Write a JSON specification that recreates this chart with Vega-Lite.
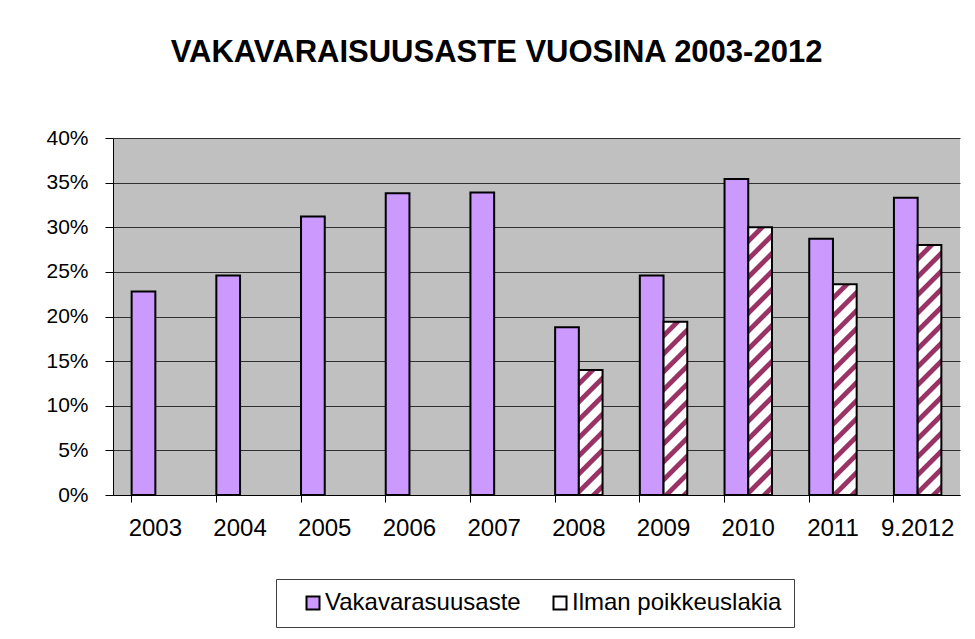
{
  "$schema": "https://vega.github.io/schema/vega-lite/v6.json",
  "autosize": {"type": "none"},
  "width": 847,
  "height": 357,
  "padding": {"left": 113, "top": 138, "right": 15, "bottom": 144},
  "background": "white",
  "title": {
    "text": "VAKAVARAISUUSASTE VUOSINA 2003-2012",
    "font": "Liberation Sans",
    "fontSize": 31,
    "fontWeight": "bold",
    "color": "black",
    "anchor": "middle",
    "frame": "group",
    "baseline": "alphabetic",
    "dx": -40,
    "offset": 34
  },
  "data": {
    "values": [
      {"year": "2003", "series": "Vakavarasuusaste", "value": 0.228},
      {"year": "2004", "series": "Vakavarasuusaste", "value": 0.246},
      {"year": "2005", "series": "Vakavarasuusaste", "value": 0.312},
      {"year": "2006", "series": "Vakavarasuusaste", "value": 0.338},
      {"year": "2007", "series": "Vakavarasuusaste", "value": 0.339},
      {"year": "2008", "series": "Vakavarasuusaste", "value": 0.188},
      {"year": "2008", "series": "Ilman poikkeuslakia", "value": 0.140},
      {"year": "2009", "series": "Vakavarasuusaste", "value": 0.246},
      {"year": "2009", "series": "Ilman poikkeuslakia", "value": 0.194},
      {"year": "2010", "series": "Vakavarasuusaste", "value": 0.354},
      {"year": "2010", "series": "Ilman poikkeuslakia", "value": 0.300},
      {"year": "2011", "series": "Vakavarasuusaste", "value": 0.287},
      {"year": "2011", "series": "Ilman poikkeuslakia", "value": 0.236},
      {"year": "9.2012", "series": "Vakavarasuusaste", "value": 0.333},
      {"year": "9.2012", "series": "Ilman poikkeuslakia", "value": 0.280}
    ]
  },
  "mark": {"type": "bar", "stroke": "black", "strokeWidth": 2},
  "encoding": {
    "x": {
      "field": "year",
      "type": "nominal",
      "sort": null,
      "scale": {"paddingInner": 0.44, "paddingOuter": 0.22},
      "axis": {
        "title": null,
        "labelAngle": 0,
        "bandPosition": 0,
        "labelFont": "Liberation Sans",
        "labelFontSize": 24,
        "labelColor": "black",
        "labelPadding": 14,
        "tickSize": 7,
        "tickColor": "black",
        "domainColor": "black",
        "grid": false
      }
    },
    "xOffset": {
      "field": "series",
      "type": "nominal",
      "scale": {"domain": ["Vakavarasuusaste", "Ilman poikkeuslakia"]}
    },
    "y": {
      "field": "value",
      "type": "quantitative",
      "scale": {"domain": [0, 0.4], "nice": false},
      "axis": {
        "title": null,
        "values": [0, 0.05, 0.1, 0.15, 0.2, 0.25, 0.3, 0.35, 0.4],
        "format": ".0%",
        "labelFont": "Liberation Sans",
        "labelFontSize": 21,
        "labelColor": "black",
        "labelPadding": 17,
        "tickSize": 8,
        "tickColor": "black",
        "domainColor": "black",
        "grid": true,
        "gridColor": "#303030",
        "gridWidth": 1
      }
    },
    "fill": {
      "condition": [
        {"test": "datum.series === 'Ilman poikkeuslakia' && datum.year === '2008'", "value": {"gradient": "linear", "x1": 0, "y1": 0, "x2": 0.5275, "y2": 2.7811, "stops": [{"offset":0,"color":"#fff"},{"offset":0.027,"color":"#fff"},{"offset":0.031,"color":"#936"},{"offset":0.046,"color":"#936"},{"offset":0.05,"color":"#fff"},{"offset":0.077,"color":"#fff"},{"offset":0.081,"color":"#936"},{"offset":0.096,"color":"#936"},{"offset":0.1,"color":"#fff"},{"offset":0.127,"color":"#fff"},{"offset":0.131,"color":"#936"},{"offset":0.146,"color":"#936"},{"offset":0.15,"color":"#fff"},{"offset":0.177,"color":"#fff"},{"offset":0.181,"color":"#936"},{"offset":0.196,"color":"#936"},{"offset":0.2,"color":"#fff"},{"offset":0.227,"color":"#fff"},{"offset":0.231,"color":"#936"},{"offset":0.246,"color":"#936"},{"offset":0.25,"color":"#fff"},{"offset":0.277,"color":"#fff"},{"offset":0.281,"color":"#936"},{"offset":0.296,"color":"#936"},{"offset":0.3,"color":"#fff"},{"offset":0.327,"color":"#fff"},{"offset":0.331,"color":"#936"},{"offset":0.346,"color":"#936"},{"offset":0.35,"color":"#fff"},{"offset":0.377,"color":"#fff"},{"offset":0.381,"color":"#936"},{"offset":0.396,"color":"#936"},{"offset":0.4,"color":"#fff"},{"offset":0.427,"color":"#fff"},{"offset":0.431,"color":"#936"},{"offset":0.446,"color":"#936"},{"offset":0.45,"color":"#fff"}]}},
        {"test": "datum.series === 'Ilman poikkeuslakia' && datum.year === '2009'", "value": {"gradient": "linear", "x1": 0, "y1": 0, "x2": 0.2795, "y2": 2.0414, "stops": [{"offset":0,"color":"#fff"},{"offset":0.027,"color":"#fff"},{"offset":0.031,"color":"#936"},{"offset":0.046,"color":"#936"},{"offset":0.05,"color":"#fff"},{"offset":0.077,"color":"#fff"},{"offset":0.081,"color":"#936"},{"offset":0.096,"color":"#936"},{"offset":0.1,"color":"#fff"},{"offset":0.127,"color":"#fff"},{"offset":0.131,"color":"#936"},{"offset":0.146,"color":"#936"},{"offset":0.15,"color":"#fff"},{"offset":0.177,"color":"#fff"},{"offset":0.181,"color":"#936"},{"offset":0.196,"color":"#936"},{"offset":0.2,"color":"#fff"},{"offset":0.227,"color":"#fff"},{"offset":0.231,"color":"#936"},{"offset":0.246,"color":"#936"},{"offset":0.25,"color":"#fff"},{"offset":0.277,"color":"#fff"},{"offset":0.281,"color":"#936"},{"offset":0.296,"color":"#936"},{"offset":0.3,"color":"#fff"},{"offset":0.327,"color":"#fff"},{"offset":0.331,"color":"#936"},{"offset":0.346,"color":"#936"},{"offset":0.35,"color":"#fff"},{"offset":0.377,"color":"#fff"},{"offset":0.381,"color":"#936"},{"offset":0.396,"color":"#936"},{"offset":0.4,"color":"#fff"},{"offset":0.427,"color":"#fff"},{"offset":0.431,"color":"#936"},{"offset":0.446,"color":"#936"},{"offset":0.45,"color":"#fff"},{"offset":0.477,"color":"#fff"},{"offset":0.481,"color":"#936"},{"offset":0.496,"color":"#936"},{"offset":0.5,"color":"#fff"},{"offset":0.527,"color":"#fff"},{"offset":0.531,"color":"#936"},{"offset":0.546,"color":"#936"},{"offset":0.55,"color":"#fff"}]}},
        {"test": "datum.series === 'Ilman poikkeuslakia' && datum.year === '2010'", "value": {"gradient": "linear", "x1": 0, "y1": 0, "x2": 0.1181, "y2": 1.3340, "stops": [{"offset":0,"color":"#fff"},{"offset":0.027,"color":"#fff"},{"offset":0.031,"color":"#936"},{"offset":0.046,"color":"#936"},{"offset":0.05,"color":"#fff"},{"offset":0.077,"color":"#fff"},{"offset":0.081,"color":"#936"},{"offset":0.096,"color":"#936"},{"offset":0.1,"color":"#fff"},{"offset":0.127,"color":"#fff"},{"offset":0.131,"color":"#936"},{"offset":0.146,"color":"#936"},{"offset":0.15,"color":"#fff"},{"offset":0.177,"color":"#fff"},{"offset":0.181,"color":"#936"},{"offset":0.196,"color":"#936"},{"offset":0.2,"color":"#fff"},{"offset":0.227,"color":"#fff"},{"offset":0.231,"color":"#936"},{"offset":0.246,"color":"#936"},{"offset":0.25,"color":"#fff"},{"offset":0.277,"color":"#fff"},{"offset":0.281,"color":"#936"},{"offset":0.296,"color":"#936"},{"offset":0.3,"color":"#fff"},{"offset":0.327,"color":"#fff"},{"offset":0.331,"color":"#936"},{"offset":0.346,"color":"#936"},{"offset":0.35,"color":"#fff"},{"offset":0.377,"color":"#fff"},{"offset":0.381,"color":"#936"},{"offset":0.396,"color":"#936"},{"offset":0.4,"color":"#fff"},{"offset":0.427,"color":"#fff"},{"offset":0.431,"color":"#936"},{"offset":0.446,"color":"#936"},{"offset":0.45,"color":"#fff"},{"offset":0.477,"color":"#fff"},{"offset":0.481,"color":"#936"},{"offset":0.496,"color":"#936"},{"offset":0.5,"color":"#fff"},{"offset":0.527,"color":"#fff"},{"offset":0.531,"color":"#936"},{"offset":0.546,"color":"#936"},{"offset":0.55,"color":"#fff"},{"offset":0.577,"color":"#fff"},{"offset":0.581,"color":"#936"},{"offset":0.596,"color":"#936"},{"offset":0.6,"color":"#fff"},{"offset":0.627,"color":"#fff"},{"offset":0.631,"color":"#936"},{"offset":0.646,"color":"#936"},{"offset":0.65,"color":"#fff"},{"offset":0.677,"color":"#fff"},{"offset":0.681,"color":"#936"},{"offset":0.696,"color":"#936"},{"offset":0.7,"color":"#fff"},{"offset":0.727,"color":"#fff"},{"offset":0.731,"color":"#936"},{"offset":0.746,"color":"#936"},{"offset":0.75,"color":"#fff"},{"offset":0.777,"color":"#fff"},{"offset":0.781,"color":"#936"},{"offset":0.796,"color":"#936"},{"offset":0.8,"color":"#fff"},{"offset":0.827,"color":"#fff"},{"offset":0.831,"color":"#936"},{"offset":0.846,"color":"#936"},{"offset":0.85,"color":"#fff"}]}},
        {"test": "datum.series === 'Ilman poikkeuslakia' && datum.year === '2011'", "value": {"gradient": "linear", "x1": 0, "y1": 0, "x2": 0.1900, "y2": 1.6880, "stops": [{"offset":0,"color":"#fff"},{"offset":0.027,"color":"#fff"},{"offset":0.031,"color":"#936"},{"offset":0.046,"color":"#936"},{"offset":0.05,"color":"#fff"},{"offset":0.077,"color":"#fff"},{"offset":0.081,"color":"#936"},{"offset":0.096,"color":"#936"},{"offset":0.1,"color":"#fff"},{"offset":0.127,"color":"#fff"},{"offset":0.131,"color":"#936"},{"offset":0.146,"color":"#936"},{"offset":0.15,"color":"#fff"},{"offset":0.177,"color":"#fff"},{"offset":0.181,"color":"#936"},{"offset":0.196,"color":"#936"},{"offset":0.2,"color":"#fff"},{"offset":0.227,"color":"#fff"},{"offset":0.231,"color":"#936"},{"offset":0.246,"color":"#936"},{"offset":0.25,"color":"#fff"},{"offset":0.277,"color":"#fff"},{"offset":0.281,"color":"#936"},{"offset":0.296,"color":"#936"},{"offset":0.3,"color":"#fff"},{"offset":0.327,"color":"#fff"},{"offset":0.331,"color":"#936"},{"offset":0.346,"color":"#936"},{"offset":0.35,"color":"#fff"},{"offset":0.377,"color":"#fff"},{"offset":0.381,"color":"#936"},{"offset":0.396,"color":"#936"},{"offset":0.4,"color":"#fff"},{"offset":0.427,"color":"#fff"},{"offset":0.431,"color":"#936"},{"offset":0.446,"color":"#936"},{"offset":0.45,"color":"#fff"},{"offset":0.477,"color":"#fff"},{"offset":0.481,"color":"#936"},{"offset":0.496,"color":"#936"},{"offset":0.5,"color":"#fff"},{"offset":0.527,"color":"#fff"},{"offset":0.531,"color":"#936"},{"offset":0.546,"color":"#936"},{"offset":0.55,"color":"#fff"},{"offset":0.577,"color":"#fff"},{"offset":0.581,"color":"#936"},{"offset":0.596,"color":"#936"},{"offset":0.6,"color":"#fff"},{"offset":0.627,"color":"#fff"},{"offset":0.631,"color":"#936"},{"offset":0.646,"color":"#936"},{"offset":0.65,"color":"#fff"},{"offset":0.677,"color":"#fff"},{"offset":0.681,"color":"#936"},{"offset":0.696,"color":"#936"},{"offset":0.7,"color":"#fff"}]}},
        {"test": "datum.series === 'Ilman poikkeuslakia' && datum.year === '9.2012'", "value": {"gradient": "linear", "x1": 0, "y1": 0, "x2": 0.1354, "y2": 1.4278, "stops": [{"offset":0,"color":"#fff"},{"offset":0.027,"color":"#fff"},{"offset":0.031,"color":"#936"},{"offset":0.046,"color":"#936"},{"offset":0.05,"color":"#fff"},{"offset":0.077,"color":"#fff"},{"offset":0.081,"color":"#936"},{"offset":0.096,"color":"#936"},{"offset":0.1,"color":"#fff"},{"offset":0.127,"color":"#fff"},{"offset":0.131,"color":"#936"},{"offset":0.146,"color":"#936"},{"offset":0.15,"color":"#fff"},{"offset":0.177,"color":"#fff"},{"offset":0.181,"color":"#936"},{"offset":0.196,"color":"#936"},{"offset":0.2,"color":"#fff"},{"offset":0.227,"color":"#fff"},{"offset":0.231,"color":"#936"},{"offset":0.246,"color":"#936"},{"offset":0.25,"color":"#fff"},{"offset":0.277,"color":"#fff"},{"offset":0.281,"color":"#936"},{"offset":0.296,"color":"#936"},{"offset":0.3,"color":"#fff"},{"offset":0.327,"color":"#fff"},{"offset":0.331,"color":"#936"},{"offset":0.346,"color":"#936"},{"offset":0.35,"color":"#fff"},{"offset":0.377,"color":"#fff"},{"offset":0.381,"color":"#936"},{"offset":0.396,"color":"#936"},{"offset":0.4,"color":"#fff"},{"offset":0.427,"color":"#fff"},{"offset":0.431,"color":"#936"},{"offset":0.446,"color":"#936"},{"offset":0.45,"color":"#fff"},{"offset":0.477,"color":"#fff"},{"offset":0.481,"color":"#936"},{"offset":0.496,"color":"#936"},{"offset":0.5,"color":"#fff"},{"offset":0.527,"color":"#fff"},{"offset":0.531,"color":"#936"},{"offset":0.546,"color":"#936"},{"offset":0.55,"color":"#fff"},{"offset":0.577,"color":"#fff"},{"offset":0.581,"color":"#936"},{"offset":0.596,"color":"#936"},{"offset":0.6,"color":"#fff"},{"offset":0.627,"color":"#fff"},{"offset":0.631,"color":"#936"},{"offset":0.646,"color":"#936"},{"offset":0.65,"color":"#fff"},{"offset":0.677,"color":"#fff"},{"offset":0.681,"color":"#936"},{"offset":0.696,"color":"#936"},{"offset":0.7,"color":"#fff"},{"offset":0.727,"color":"#fff"},{"offset":0.731,"color":"#936"},{"offset":0.746,"color":"#936"},{"offset":0.75,"color":"#fff"},{"offset":0.777,"color":"#fff"},{"offset":0.781,"color":"#936"},{"offset":0.796,"color":"#936"},{"offset":0.8,"color":"#fff"}]}}
      ],
      "field": "series",
      "type": "nominal",
      "scale": {"domain": ["Vakavarasuusaste", "Ilman poikkeuslakia"], "range": ["#CC99FF", "#ffffff"]},
      "legend": {
        "title": null,
        "orient": "none",
        "legendX": 163,
        "legendY": 441,
        "direction": "horizontal",
        "columns": 2,
        "padding": 12,
        "columnPadding": 14,
        "symbolType": "square",
        "symbolSize": 169,
        "symbolOffset": 13,
        "symbolStrokeColor": "black",
        "symbolStrokeWidth": 2,
        "labelOffset": 0,
        "labelFont": "Liberation Sans",
        "labelFontSize": 24,
        "labelColor": "black",
        "labelLimit": 400,
        "strokeColor": "#404040",
        "fillColor": "white"
      }
    }
  },
  "config": {
    "view": {"fill": "#C0C0C0", "stroke": null}
  }
}
